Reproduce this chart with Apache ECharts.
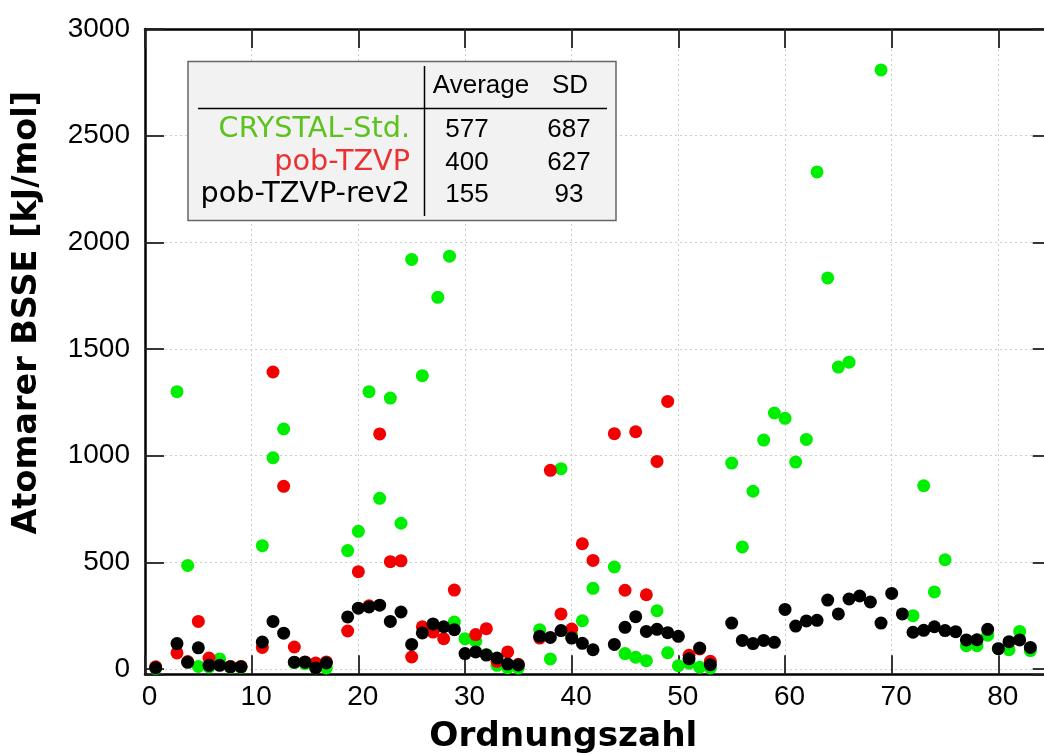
<!DOCTYPE html>
<html>
<head>
<meta charset="utf-8">
<script src="https://cdn.jsdelivr.net/npm/echarts@6/dist/echarts.min.js"></script>
<style>
html,body{margin:0;padding:0;background:#fff;}
#chart{width:1044px;height:755px;}
</style>
</head>
<body>
<div id="chart"></div>
<script>
// ---- data ----
const crystalZ = [1,3,4,5,6,7,8,9,11,12,13,14,15,16,17,19,20,21,22,23,24,25,26,27.45,28.55,29,30,31,32,33,34,35,37,38,39,40,41,42,44,45,46,47,48,49,50,51,52,53,55,56,57,58,59,60,61,62,63,64,65,66,69,72,73,74,75,77,78,79,80,81,82,83];
const crystalVal = [3,1300,485,12,10,47,8,8,578,990,1125,30,25,5,5,555,645,1300,800,1270,683,1920,1375,1742,1935,220,142,130,68,17,6,5,184,47,939,160,226,378,478,72,55,39,273,76,15,27,8,5,965,572,833,1073,1200,1175,970,1076,2330,1833,1415,1438,2808,250,859,361,512,109,109,158,95,90,176,86];

const pobZ = [1,3,4,5,6,8,9,11,12,13,14,15,16,17,19,20,21,22,23,24,25,26,27,28,29,31,32,33,34,35,37,38,39,40,41,42,44,45,46,47,48,49,51,52,53];
const pobVal = [10,75,35,223,51,12,12,101,1392,856,103,33,28,33,178,456,296,1102,503,507,56,198,173,142,370,161,189,36,80,22,145,931,258,187,587,509,1103,369,1112,348,973,1254,64,94,36];

const rev2Z = [1,3,4,5,6,7,8,9,11,12,13,14,15,16,17,19,20,21,22,23,24,25,26,27,28,29,30,31,32,33,34,35,37,38,39,40,41,42,44,45,46,47,48,49,50,51,52,53,55,56,57,58,59,60,61,62,63,64,65,66,67,68,69,70,71,72,73,74,75,76,77,78,79,80,81,82,83];
const rev2Val = [6,119,31,99,17,17,10,10,126,223,168,32,32,5,28,244,285,291,299,223,267,115,169,211,198,184,72,80,65,51,23,19,153,148,180,145,120,90,115,195,245,176,186,170,153,48,98,20,215,134,119,134,125,279,201,225,228,323,258,328,342,314,215,354,258,172,181,198,180,175,136,137,186,95,128,136,101];

const seriesNames = ['CRYSTAL-Std.', 'pob-TZVP', 'pob-TZVP-rev2'];
const tableHeader = ['Average', 'SD'];
const tableAvg = [577, 400, 155];
const tableSD = [687, 627, 93];
const xTitle = 'Ordnungszahl';
const yTitle = 'Atomarer BSSE [kJ/mol]';

// ---- styling ----
const pointColors = ['#00ee00', '#f20000', '#000000'];
const tableColors = ['#5cc21e', '#ea3232', '#000000'];
const FONT = 'DejaVu Sans';
const NUMFONT = 'Liberation Sans';

function pairs(xs, ys) { return xs.map((x, i) => [x, ys[i]]); }

const chart = echarts.init(document.getElementById('chart'), null, {renderer: 'canvas'});

const axisLineStyle = {color: '#000', width: 2.5};
const tickStyle = {color: '#222', width: 1.8};
const gridLine = {show: true, lineStyle: {color: '#cccccc', width: 1, type: [2, 3]}};

const G = {left: 145, top: 29, width: 906.7, height: 645.3, outerBoundsMode: 'none', containLabel: false};

// table geometry
const rowY = [130, 162.5, 195];
const labelRight = 410;
const col1 = 467, col2 = 569;

const txt = (size, fam, bold) => (bold ? 'bold ' : '') + size + 'px "' + fam + '"';

const graphics = [
  {type: 'rect', shape: {x: 188, y: 61.5, width: 428, height: 159},
   style: {fill: '#f2f2f2', stroke: '#666', lineWidth: 1.5}, z: 100},
  {type: 'line', shape: {x1: 424.5, y1: 66, x2: 424.5, y2: 216},
   style: {stroke: '#000', lineWidth: 1.5}, z: 101},
  {type: 'line', shape: {x1: 198, y1: 108.5, x2: 607, y2: 108.5},
   style: {stroke: '#000', lineWidth: 1.5}, z: 101},
  {type: 'text', x: 481, y: 86, z: 102,
   style: {text: tableHeader[0], font: txt(26, NUMFONT), fill: '#000', align: 'center', verticalAlign: 'middle'}},
  {type: 'text', x: 570, y: 86, z: 102,
   style: {text: tableHeader[1], font: txt(26, NUMFONT), fill: '#000', align: 'center', verticalAlign: 'middle'}},
  // axis titles
  {type: 'text', x: 563.3, y: 737, z: 102,
   style: {text: xTitle, font: txt(34.3, FONT, true), fill: '#000', align: 'center', verticalAlign: 'middle'}},
  {type: 'text', x: 27, y: 312.7, rotation: Math.PI / 2, z: 102,
   style: {text: yTitle, font: txt(33.5, FONT, true), fill: '#000', align: 'center', verticalAlign: 'middle'}}
];
seriesNames.forEach((n, i) => {
  graphics.push({type: 'text', x: labelRight, y: rowY[i], z: 102,
    style: {text: n, font: txt(28.7, FONT), fill: tableColors[i], align: 'right', verticalAlign: 'middle'}});
  graphics.push({type: 'text', x: col1, y: rowY[i], z: 102,
    style: {text: String(tableAvg[i]), font: txt(26, NUMFONT), fill: '#000', align: 'center', verticalAlign: 'middle'}});
  graphics.push({type: 'text', x: col2, y: rowY[i], z: 102,
    style: {text: String(tableSD[i]), font: txt(26, NUMFONT), fill: '#000', align: 'center', verticalAlign: 'middle'}});
});

const option = {
  backgroundColor: '#fff',
  animation: false,
  textStyle: {fontFamily: FONT},
  grid: G,
  xAxis: [
    {type: 'value', min: 0, max: 85, interval: 10, position: 'bottom',
     axisLine: {show: true, onZero: false, lineStyle: axisLineStyle},
     axisTick: {show: true, inside: true, length: 19, lineStyle: tickStyle},
     axisLabel: {show: true, margin: 9, color: '#000', fontSize: 28, fontFamily: NUMFONT,
       padding: [0, 0, 0, 9],
       formatter: v => (v % 10 === 0 ? String(v) : '')},
     splitLine: gridLine},
    {type: 'value', min: 0, max: 85, interval: 10, position: 'top',
     axisLine: {show: true, onZero: false, lineStyle: axisLineStyle},
     axisTick: {show: true, inside: true, length: 19, lineStyle: tickStyle},
     axisLabel: {show: false}, splitLine: {show: false}}
  ],
  yAxis: [
    {type: 'value', min: -25, max: 3000, splitNumber: 6, position: 'left',
     axisLine: {show: true, onZero: false, lineStyle: axisLineStyle},
     axisTick: {show: true, inside: true, length: 19, lineStyle: tickStyle},
     axisLabel: {show: true, margin: 15, color: '#000', fontSize: 28, fontFamily: NUMFONT,
       formatter: v => (v % 500 === 0 ? String(v) : '')},
     splitLine: gridLine},
    {type: 'value', min: -25, max: 3000, splitNumber: 6, position: 'right',
     axisLine: {show: true, onZero: false, lineStyle: axisLineStyle},
     axisTick: {show: true, inside: true, length: 19, lineStyle: tickStyle},
     axisLabel: {show: false}, splitLine: {show: false}}
  ],
  series: [
    {name: seriesNames[0], type: 'scatter', xAxisIndex: 0, yAxisIndex: 0,
     symbol: 'circle', symbolSize: 13, itemStyle: {color: pointColors[0], opacity: 1},
     data: pairs(crystalZ, crystalVal), z: 3},
    {name: seriesNames[1], type: 'scatter', xAxisIndex: 0, yAxisIndex: 0,
     symbol: 'circle', symbolSize: 13, itemStyle: {color: pointColors[1], opacity: 1},
     data: pairs(pobZ, pobVal), z: 4},
    {name: seriesNames[2], type: 'scatter', xAxisIndex: 0, yAxisIndex: 0,
     symbol: 'circle', symbolSize: 13, itemStyle: {color: pointColors[2], opacity: 1},
     data: pairs(rev2Z, rev2Val), z: 5}
  ],
  graphic: graphics
};
chart.setOption(option);
</script>
</body>
</html>
